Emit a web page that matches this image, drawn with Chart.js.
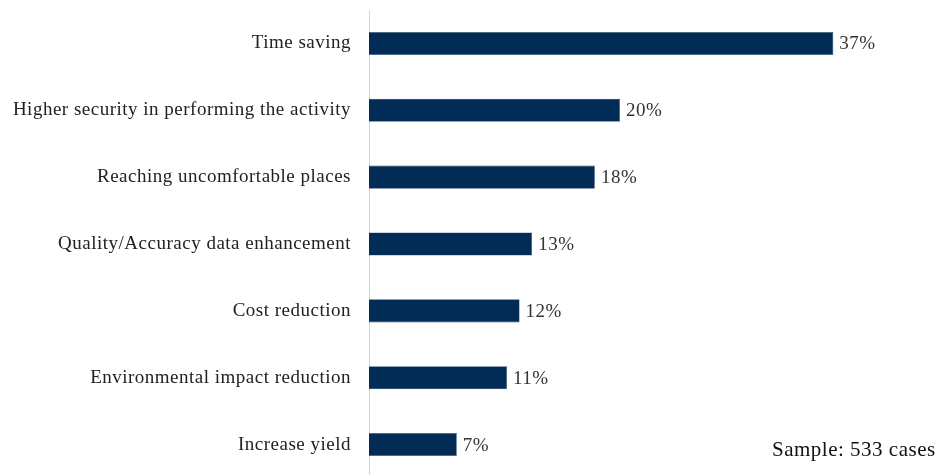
<!DOCTYPE html>
<html>
<head>
<meta charset="utf-8">
<script src="https://cdn.jsdelivr.net/npm/chart.js@4.4.1/dist/chart.umd.min.js"></script>
<style>
  html, body { margin: 0; padding: 0; background: #fff; overflow: hidden; }
  #wrap { position: relative; width: 939px; height: 479px; }
  #sample { position: absolute; left: 772px; top: 437px; font: 21px "Liberation Serif", serif; letter-spacing: 0.5px; color: #111; white-space: nowrap; }
</style>
</head>
<body>
<div id="wrap">
  <canvas id="chartBenefits" width="939" height="479"></canvas>
  <div id="sample">Sample: 533 cases</div>
</div>
<script>
const benefits = [
  'Time saving',
  'Higher security in performing the activity',
  'Reaching uncomfortable places',
  'Quality/Accuracy data enhancement',
  'Cost reduction',
  'Environmental impact reduction',
  'Increase yield'
];
const shares = [37, 20, 18, 13, 12, 11, 7];
const valueLabels = ['37%', '20%', '18%', '13%', '12%', '11%', '7%'];

const serif = '"Liberation Serif", "Times New Roman", serif';

// slightly wider tracking for all canvas text
const tracking = {
  id: 'tracking',
  beforeDraw(chart) { chart.ctx.letterSpacing = '0.5px'; }
};

// writes the percentage just past the end of each bar
const barValues = {
  id: 'barValues',
  afterDatasetsDraw(chart) {
    const ctx = chart.ctx;
    const meta = chart.getDatasetMeta(0);
    ctx.save();
    ctx.font = '19px ' + serif;
    ctx.fillStyle = '#333';
    ctx.textAlign = 'left';
    ctx.textBaseline = 'middle';
    meta.data.forEach((bar, i) => {
      ctx.fillText(valueLabels[i], bar.x + 6, bar.y + 1);
    });
    ctx.restore();
  }
};

const ctxBenefits = document.getElementById('chartBenefits').getContext('2d');
const chartBenefits = new Chart(ctxBenefits, {
    type: 'bar',
    data: {
        labels: benefits,
        datasets: [{
            data: shares,
            backgroundColor: '#022c55',
            borderColor: '#3d5a7a',
            borderWidth: 0.6,
            barPercentage: 0.69,
            categoryPercentage: 0.5
        }]
    },
    options: {
        indexAxis: 'y',
        responsive: false,
        animation: false,
        layout: { padding: { top: 10, right: 68, bottom: 1, left: 0 } },
        plugins: {
            legend: { display: false },
            tooltip: { enabled: false }
        },
        scales: {
            x: {
                display: false,
                min: 0,
                max: 40
            },
            y: {
                afterFit(scale) {
                    scale.width = 369;
                    scale.paddingTop = 0;
                    scale.paddingBottom = 0;
                },
                grid: { display: false, drawTicks: false },
                border: { display: true, color: '#d4d4d4', width: 1 },
                ticks: {
                    padding: 18,
                    color: '#222',
                    font: { family: serif, size: 19 }
                }
            }
        }
    },
    plugins: [tracking, barValues]
});
</script>
</body>
</html>
